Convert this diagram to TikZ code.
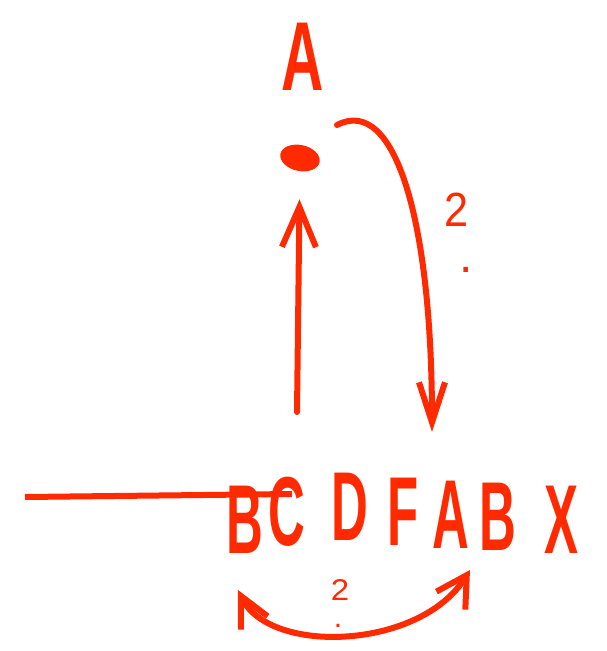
\documentclass[tikz,border=0pt]{standalone}
\usepackage{fontspec}
\setmainfont{Liberation Sans}
\usetikzlibrary{arrows.meta,shapes.geometric}
\definecolor{pen}{RGB}{255,42,0}
\begin{document}
\begin{tikzpicture}[x=1pt,y=-1pt,
 hand/.style={draw=pen, line width=6pt, line cap=round, line join=round},
 letter/.style={text=pen, inner sep=0pt, font=\fontsize{98}{98}\selectfont\bfseries, xscale=0.52, anchor=base},
 small/.style={text=pen, inner sep=0pt, anchor=base},
 barb/.style={-{Straight Barb[length=40pt,width=34pt]}}
]
\useasboundingbox (0,0) rectangle (607,651);
% top letter and dot
\node[letter, xscale=1.15] (A1) at (303,90) {A};
\node[ellipse, fill=pen, minimum width=40pt, minimum height=26pt, inner sep=0pt, rotate=-12] (dot) at (300,158) {};
% bottom word
\node[letter] (B1) at (245,553) {B};
\node[letter] (C) at (287,545) {C};
\node[letter] (D) at (350,540) {D};
\node[letter] (F) at (403,545) {F};
\node[letter] (A2) at (451,548) {A};
\node[letter] (B2) at (498,550) {B};
\node[letter] (X) at (561,553) {X};
% labels
\node[small, font=\fontsize{48}{48}\selectfont, xscale=0.9] (two1) at (457,226) {2};
\node[small, font=\fontsize{48}{48}\selectfont] (dot1) at (466,272) {.};
\node[small, font=\fontsize{30}{30}\selectfont, xscale=1.1] (two2) at (340,600) {2};
\node[small, font=\fontsize{30}{30}\selectfont] (dot2) at (338,627) {.};
% coordinates
\coordinate (upS) at (297,412);
\coordinate (arcS) at (337,125);
\coordinate (downE) at (432,432);
\coordinate (bl) at (238,590);
\coordinate (br) at (470,570);
\coordinate (sL) at (25,497);
\coordinate (sR) at (292,494);
% connectors
\draw[hand, barb, shorten >=28pt] (upS) -- (dot);
\draw[hand, -{Straight Barb[length=40pt,width=26pt]}] (arcS) .. controls (395,95) and (432,220) .. (downE);
\draw[hand, {Straight Barb[length=30pt,width=30pt]}-{Straight Barb[length=30pt,width=34pt]}] (bl) .. controls (270,655) and (420,650) .. (br);
\draw[hand, line width=6pt, line cap=butt] (sL) -- (sR);
\end{tikzpicture}
\end{document}
